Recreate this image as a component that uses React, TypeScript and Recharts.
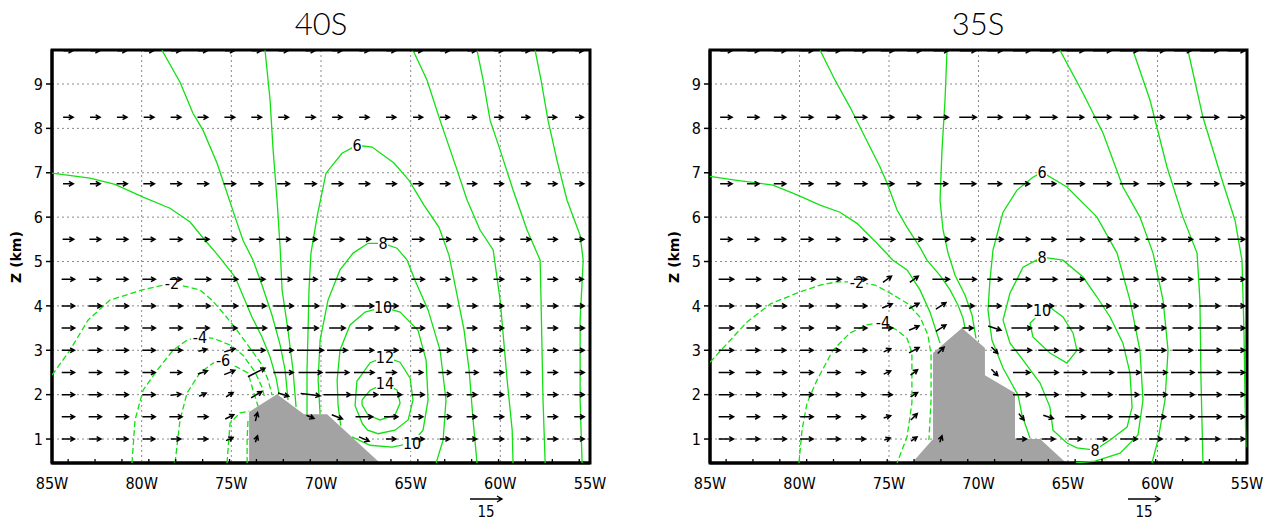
import React from "react"
import { ComposedChart, XAxis, YAxis, CartesianGrid, Scatter, Area, ReferenceArea } from "recharts"

type Pt = [number, number]

const xTicks = [-85, -80, -75, -70, -65, -60, -55]
const zTicks = [1, 2, 3, 4, 5, 6, 7, 8, 9]
const zMin = 0.46
const zMax = 9.766
// vector grid: heights (km) and longitudes of the arrows
const levels = [9.75, 8.25, 6.75, 5.5, 4.6, 4.0, 3.5, 3.0, 2.5, 2.0, 1.5, 1.0]
const columns = [-84.1, -82.6, -81.1, -79.6, -78.1, -76.6, -75.1, -73.6, -72.1, -70.6, -69.1, -67.6, -66.1, -64.6, -63.1, -61.6, -60.1, -58.6, -57.1, -55.6]
const refSpeed = 15

// ---- 40S ----
const terrain40: Pt[] = [[-74.01, 0.46], [-74.01, 1.61], [-72.45, 2.01], [-70.95, 1.56], [-69.66, 1.56], [-66.71, 0.46]]

const c40m10: Pt[] = [[-74.12, 0.46], [-74.12, 0.98], [-74.07, 1.43]]
const c40m8: Pt[] = [[-75.24, 0.46], [-75.07, 1.36], [-74.51, 1.59], [-74.0, 1.63]]
const c40m6: Pt[] = [[-78.14, 0.46], [-77.86, 1.43], [-77.47, 2.04], [-76.75, 2.49], [-76.02, 2.71], [-75.46, 2.78], [-74.68, 2.62], [-74.07, 2.49], [-73.79, 2.1], [-73.51, 1.74]]
const c40m4: Pt[] = [[-80.54, 0.46], [-80.37, 1.43], [-79.92, 2.1], [-79.14, 2.55], [-78.25, 3.0], [-77.47, 3.23], [-76.75, 3.3], [-76.02, 3.27], [-75.07, 3.12], [-74.35, 2.89], [-73.68, 2.51], [-73.29, 2.17], [-73.12, 1.9]]
const c40m2: Pt[] = [[-85, 2.44], [-84, 3.0], [-82.99, 3.68], [-81.77, 4.13], [-79.98, 4.36], [-78.31, 4.51], [-76.75, 4.36], [-76.08, 4.13], [-75.35, 3.79], [-74.68, 3.45], [-73.96, 3.05], [-73.29, 2.67], [-72.95, 2.33], [-72.73, 1.99]]
const c40p0a: Pt[] = [[-85, 6.99], [-82.88, 6.88], [-81.49, 6.74], [-79.92, 6.45], [-78.42, 6.2], [-77.3, 5.89], [-76.47, 5.48], [-75.74, 5.14], [-74.79, 4.65], [-73.85, 3.75], [-73.29, 3.3], [-72.84, 2.85], [-72.5, 2.37], [-72.34, 2.01]]
const c40p0b: Pt[] = [[-58.06, 9.76], [-57.73, 9.09], [-57.34, 8.18], [-56.84, 7.28], [-56.28, 6.38], [-55.55, 5.59], [-55.38, 5.03], [-55.55, 3.68], [-55.55, 1.88], [-55.44, 0.46]]
const c40p2a: Pt[] = [[-78.87, 9.76], [-77.86, 9.04], [-77.14, 8.34], [-76.58, 7.96], [-75.8, 7.22], [-75.35, 6.68], [-74.79, 6.0], [-74.35, 5.48], [-73.79, 5.03], [-73.29, 4.47], [-72.73, 3.79], [-72.28, 3.12], [-72.0, 2.55], [-71.84, 1.88]]
const c40p2b: Pt[] = [[-61.3, 9.76], [-60.96, 9.09], [-60.57, 8.18], [-60.01, 7.51], [-59.29, 6.61], [-58.51, 5.71], [-57.78, 5.03], [-57.73, 4.13], [-57.62, 1.88], [-57.5, 0.46]]
const c40p4a: Pt[] = [[-73.12, 9.76], [-72.84, 8.64], [-72.67, 7.51], [-72.45, 6.38], [-72.28, 5.32], [-72.17, 4.36], [-71.84, 3.45], [-71.56, 2.55], [-71.39, 1.72]]
const c40p4b: Pt[] = [[-64.87, 9.76], [-64.09, 9.09], [-63.36, 8.18], [-62.41, 7.06], [-61.85, 6.38], [-61.13, 5.71], [-60.4, 5.26], [-60.01, 4.13], [-59.62, 2.33], [-59.34, 1.2], [-59.29, 0.46]]
const c40p6: Pt[] = [[-70.78, 1.56], [-70.78, 2.55], [-70.72, 3.45], [-70.67, 4.36], [-70.56, 5.19], [-70.2, 6.05], [-69.72, 6.99], [-68.83, 7.44], [-67.99, 7.62], [-67.15, 7.58], [-65.93, 7.22], [-65.09, 6.83], [-64.26, 6.27], [-63.42, 5.77], [-62.86, 5.14], [-62.47, 4.36], [-62.02, 3.45], [-61.74, 2.55], [-61.52, 1.43], [-61.3, 0.46]]
const c40p8: Pt[] = [[-70.05, 1.56], [-70.16, 2.33], [-70.05, 3.23], [-69.61, 4.13], [-68.94, 4.81], [-68.21, 5.19], [-67.38, 5.41], [-66.54, 5.41], [-65.76, 5.3], [-65.2, 5.03], [-64.76, 4.58], [-64.03, 3.91], [-63.36, 3.0], [-63.03, 1.88], [-63.19, 0.98], [-63.58, 0.46]]
const c40p10: Pt[] = [[-68.27, 1.05], [-67.26, 0.86], [-66.04, 0.82], [-64.92, 0.91], [-64.31, 1.2], [-64.03, 1.88], [-64.14, 2.78], [-64.59, 3.45], [-65.59, 3.86], [-66.54, 3.97], [-67.54, 3.86], [-68.38, 3.57], [-68.94, 3.0], [-69.1, 2.33], [-69.05, 1.77], [-68.9, 1.3]]
const c40p12: Pt[] = [[-67.7, 1.35], [-68.1, 1.75], [-68.0, 2.3], [-67.26, 2.72], [-66.43, 2.85], [-65.59, 2.73], [-65.03, 2.37], [-64.87, 1.88], [-65.14, 1.43], [-65.87, 1.2], [-66.82, 1.12], [-67.4, 1.2], [-67.7, 1.35]]
const c40p14: Pt[] = [[-67.71, 1.88], [-67.26, 2.1], [-66.43, 2.26], [-65.76, 2.1], [-65.59, 1.81], [-65.87, 1.54], [-66.71, 1.43], [-67.38, 1.54], [-67.71, 1.77], [-67.71, 1.88]]

const lines40 = [
  { level: -10, pts: c40m10 }, { level: -8, pts: c40m8 }, { level: -6, pts: c40m6 },
  { level: -4, pts: c40m4 }, { level: -2, pts: c40m2 },
  { level: 0, pts: c40p0a }, { level: 0, pts: c40p0b },
  { level: 2, pts: c40p2a }, { level: 2, pts: c40p2b },
  { level: 4, pts: c40p4a }, { level: 4, pts: c40p4b },
  { level: 6, pts: c40p6 }, { level: 8, pts: c40p8 }, { level: 10, pts: c40p10 },
  { level: 12, pts: c40p12 }, { level: 14, pts: c40p14 },
]

const labels40 = [
  { lon: -78.31, z: 4.51, text: "-2" }, { lon: -76.75, z: 3.3, text: "-4" }, { lon: -75.46, z: 2.78, text: "-6" },
  { lon: -67.99, z: 7.62, text: "6" }, { lon: -66.54, z: 5.41, text: "8" }, { lon: -66.54, z: 3.97, text: "10" },
  { lon: -66.43, z: 2.85, text: "12" }, { lon: -66.43, z: 2.26, text: "14" }, { lon: -64.92, z: 0.91, text: "10" },
]

// zonal wind (m/s) per level (rows) and column; null = below ground
const u40: (number | null)[][] = [
  [4.4, 4.4, 4.4, 4.4, 4.4, 4.4, 4.4, 4.4, 4.4, 4.4, 4.4, 4.4, 4.4, 4.4, 4.3, 4.2, 4.1, 4.0, 4.0, 3.9],
  [4.7, 4.7, 4.7, 4.8, 4.8, 4.8, 4.8, 4.8, 4.8, 4.7, 4.7, 4.6, 4.6, 4.5, 4.4, 4.3, 4.2, 4.1, 4.0, 3.9],
  [4.8, 4.8, 5.0, 5.2, 5.3, 5.4, 5.6, 5.8, 5.8, 5.6, 5.4, 5.2, 5.0, 4.8, 4.7, 4.6, 4.5, 4.4, 4.3, 4.2],
  [5.2, 5.3, 5.5, 5.7, 5.9, 6.0, 6.2, 6.4, 6.5, 6.4, 6.2, 6.0, 5.8, 5.6, 5.4, 5.2, 5.0, 4.8, 4.6, 4.4],
  [6.1, 5.6, 5.6, 6.1, 5.6, 7.5, 7.8, 8.0, 8.0, 6.5, 7.5, 7.5, 6.0, 6.1, 4.7, 4.7, 4.7, 4.7, 4.7, 3.8],
  [6.1, 6.1, 6.1, 6.1, 6.1, 7.0, 7.5, 9.0, 9.4, 8.0, 7.5, 9.0, 6.5, 6.1, 6.0, 4.7, 4.7, 4.7, 4.7, 4.7],
  [6.1, 6.1, 6.1, 6.1, 6.1, 6.1, 7.0, 9.4, 7.5, 7.5, 7.5, 8.0, 7.5, 6.1, 6.0, 4.7, 4.7, 4.7, 4.7, 4.7],
  [6.0, 6.0, 6.0, 6.0, 6.0, 4.0, 5.0, 8.0, 9.4, 12.5, 9.4, 9.0, 6.5, 5.5, 6.0, 4.7, 4.7, 4.7, 4.7, 4.7],
  [6.0, 6.0, 6.0, 6.0, 5.5, 4.5, 5.0, 8.0, 9.4, 11.0, 11.0, 9.4, 5.0, 4.7, 6.0, 6.0, 4.7, 4.7, 4.7, 4.7],
  [6.0, 6.0, 6.0, 6.0, 5.0, 3.3, 3.3, 5.0, 5.0, 9.0, 12.7, 12.7, 10.0, 6.0, 6.0, 4.7, 4.7, 4.7, 4.7, 4.7],
  [6.0, 6.0, 6.0, 6.0, 6.0, 5.0, 4.0, 1.0, null, 3.5, 5.0, 8.0, 6.5, 4.7, 6.0, 4.7, 4.7, 4.7, 4.7, 4.7],
  [6.0, 5.6, 5.6, 5.6, 4.7, 4.7, 3.3, 1.0, null, null, null, 4.7, 4.7, 6.0, 4.7, 4.7, 4.7, 4.7, 4.7, 4.7],
]
// vertical component (scaled) where arrows are tilted: [row, column, w]
const tilt40: [number, number, number][] = [
  [7, 5, 1], [7, 6, 1.5], [8, 5, 1.5], [8, 6, 2], [8, 7, 4], [9, 4, 0.5], [9, 5, 1.5], [9, 6, 2], [9, 7, 3],
  [10, 6, 2], [10, 7, 4], [11, 6, 1.5], [11, 7, 3], [9, 8, -1.5], [9, 9, -1], [10, 9, -1.5], [10, 10, -2], [11, 11, -2],
]

// ---- 35S ----
const terrain35: Pt[] = [[-73.72, 0.46], [-72.54, 1.0], [-72.54, 2.94], [-70.92, 3.5], [-69.64, 3.05], [-69.64, 2.44], [-67.96, 2.04], [-67.96, 1.0], [-66.56, 1.0], [-65.1, 0.46]]

const c35m4: Pt[] = [[-80.03, 0.46], [-79.86, 1.2], [-79.58, 1.81], [-79.02, 2.33], [-78.13, 3.0], [-77.18, 3.39], [-76.23, 3.57], [-75.34, 3.64], [-74.55, 3.45], [-73.99, 3.27], [-73.72, 2.94], [-73.72, 2.4], [-73.72, 1.81], [-73.99, 1.05], [-74.55, 0.46]]
const c35m2: Pt[] = [[-85, 2.73], [-82.93, 3.64], [-81.6, 4.05], [-80.14, 4.29], [-78.85, 4.47], [-77.91, 4.54], [-76.79, 4.54], [-75.78, 4.47], [-74.94, 4.29], [-73.99, 4.06], [-73.27, 3.75], [-72.82, 3.34], [-72.65, 2.89], [-72.65, 1.88], [-72.77, 0.98]]
const c35p0a: Pt[] = [[-85, 6.92], [-83.49, 6.83], [-81.48, 6.72], [-80.14, 6.5], [-78.85, 6.27], [-77.74, 6.11], [-76.79, 5.86], [-75.67, 5.41], [-74.78, 5.03], [-73.99, 4.81], [-73.27, 4.36], [-72.71, 3.86], [-72.15, 3.16]]
const c35p0b: Pt[] = [[-58.3, 9.76], [-57.46, 8.25], [-56.34, 6.77], [-55.67, 5.93], [-55.28, 5.03], [-55.17, 3.45], [-55.11, 1.88], [-55.06, 0.82]]
const c35p2a: Pt[] = [[-78.85, 9.76], [-78.02, 9.09], [-77.18, 8.48], [-76.45, 7.89], [-75.5, 7.13], [-75.11, 6.77], [-74.55, 6.16], [-73.99, 5.77], [-73.27, 5.32], [-72.88, 5.03], [-72.15, 4.69], [-71.59, 4.36], [-71.15, 4.02], [-70.87, 3.73], [-70.75, 3.5]]
const c35p2b: Pt[] = [[-61.37, 9.76], [-60.42, 8.64], [-59.47, 7.13], [-58.58, 6.0], [-57.79, 5.19], [-57.63, 4.13], [-57.57, 2.33], [-57.46, 0.46]]
const c35p4a: Pt[] = [[-71.76, 9.76], [-71.87, 8.64], [-72.04, 7.51], [-72.15, 6.38], [-71.98, 5.71], [-71.7, 5.19], [-71.31, 4.69], [-70.75, 4.24], [-70.36, 3.79], [-70.14, 3.27]]
const c35p4b: Pt[] = [[-65.45, 9.76], [-64.16, 8.79], [-63.04, 7.89], [-61.93, 6.68], [-60.98, 6.0], [-60.25, 5.19], [-59.69, 4.13], [-59.41, 3.0], [-59.58, 1.88], [-59.97, 0.98], [-60.31, 0.46]]
const c35p6: Pt[] = [[-67.12, 1.02], [-67.57, 1.54], [-67.79, 1.99], [-68.63, 2.6], [-69.25, 3.23], [-69.47, 3.91], [-69.36, 4.58], [-69.19, 5.26], [-68.63, 6.11], [-67.85, 6.61], [-66.96, 6.9], [-66.45, 7.01], [-65.06, 6.68], [-63.38, 6.0], [-62.26, 5.19], [-61.54, 4.13], [-60.98, 3.0], [-60.81, 1.88], [-61.09, 1.09], [-62.09, 0.68], [-63.49, 0.5], [-64.61, 0.46]]
const c35p8: Pt[] = [[-66.45, 5.1], [-65.28, 5.03], [-64.16, 4.65], [-63.38, 4.2], [-62.65, 3.75], [-61.93, 3.16], [-61.54, 2.49], [-61.42, 1.72], [-61.7, 1.27], [-62.65, 0.98], [-63.49, 0.75], [-64.5, 0.8], [-65.06, 0.91], [-65.84, 1.2], [-66.01, 1.72], [-66.56, 2.26], [-67.51, 2.78], [-68.24, 3.16], [-68.63, 3.68], [-68.24, 4.29], [-67.51, 4.87], [-66.45, 5.1]]
const c35p10: Pt[] = [[-66.56, 3.84], [-66.01, 3.97], [-65.28, 3.75], [-64.72, 3.39], [-64.5, 3.0], [-65.06, 2.71], [-66.01, 2.94], [-66.96, 3.3], [-67.12, 3.61], [-66.56, 3.84]]

const lines35 = [
  { level: -4, pts: c35m4 }, { level: -2, pts: c35m2 },
  { level: 0, pts: c35p0a }, { level: 0, pts: c35p0b },
  { level: 2, pts: c35p2a }, { level: 2, pts: c35p2b },
  { level: 4, pts: c35p4a }, { level: 4, pts: c35p4b },
  { level: 6, pts: c35p6 }, { level: 8, pts: c35p8 }, { level: 10, pts: c35p10 },
]

const labels35 = [
  { lon: -76.79, z: 4.54, text: "-2" }, { lon: -75.34, z: 3.64, text: "-4" },
  { lon: -66.45, z: 7.01, text: "6" }, { lon: -66.45, z: 5.1, text: "8" },
  { lon: -66.45, z: 3.9, text: "10" }, { lon: -63.49, z: 0.75, text: "8" },
]

const u35: (number | null)[][] = [
  [5.6, 5.6, 5.6, 5.8, 6.0, 6.0, 6.1, 6.5, 7.0, 7.5, 7.0, 8.0, 8.0, 8.0, 8.5, 8.5, 8.0, 8.0, 8.5, 8.0],
  [5.6, 5.6, 5.6, 5.8, 6.0, 6.0, 6.1, 6.5, 7.0, 8.0, 7.0, 8.0, 8.0, 8.0, 8.5, 8.5, 8.0, 8.0, 8.5, 8.0],
  [5.6, 5.6, 5.6, 5.8, 6.0, 6.0, 6.2, 6.2, 6.2, 7.5, 6.5, 7.5, 7.0, 8.5, 8.5, 8.5, 8.0, 8.0, 8.5, 8.0],
  [5.6, 5.6, 5.6, 5.8, 6.0, 6.5, 7.0, 8.0, 8.0, 7.0, 8.0, 8.0, 7.0, 8.5, 9.4, 9.4, 9.4, 9.4, 9.4, 8.0],
  [7.0, 7.0, 6.1, 8.0, 7.0, 6.1, 4.0, 4.0, 8.0, 8.0, 7.0, 8.0, 8.0, 8.5, 8.5, 8.5, 9.4, 9.4, 9.4, 8.0],
  [7.0, 7.0, 6.1, 6.1, 6.1, 6.1, 4.7, 4.7, 4.7, 6.0, 6.0, 9.4, 5.0, 8.0, 8.0, 8.5, 9.4, 9.4, 9.4, 8.0],
  [7.0, 6.1, 5.6, 6.1, 6.1, 6.1, 5.0, 4.7, 4.7, 5.0, 6.0, 9.4, 9.4, 8.0, 8.5, 9.4, 9.4, 9.4, 10.8, 8.0],
  [7.0, 6.1, 5.6, 6.1, 6.1, 6.1, 3.3, 4.7, 3.0, null, 3.0, 9.4, 9.4, 8.0, 9.4, 9.4, 9.4, 9.4, 10.8, 8.0],
  [7.0, 7.0, 6.1, 6.1, 6.1, 4.7, 3.3, 3.3, null, null, 3.0, 8.0, 9.4, 10.8, 10.8, 10.8, 10.8, 10.8, 10.8, 8.0],
  [7.0, 7.0, 6.1, 6.1, 6.1, 4.7, 4.7, 3.3, null, null, null, 8.0, 9.4, 9.4, 9.4, 9.4, 10.8, 10.8, 10.8, 8.0],
  [7.0, 6.1, 6.1, 6.1, 6.1, 4.7, 3.3, 3.0, null, null, null, 2.5, 4.7, 9.4, 9.4, 9.4, 9.4, 10.8, 10.8, 8.0],
  [7.0, 6.1, 6.1, 6.1, 6.1, 4.7, 2.8, 2.8, 1.0, null, null, 4.7, 6.1, 6.1, 4.7, 8.0, 6.1, 6.1, 9.4, 8.0],
]
const tilt35: [number, number, number][] = [
  [4, 6, 3], [4, 7, 3], [5, 6, 2], [5, 7, 2.5], [5, 8, 3], [6, 7, 2], [6, 8, 3], [7, 6, 1.5], [7, 7, 2.5], [7, 8, 3],
  [8, 6, 1.5], [8, 7, 2.5], [9, 7, 2], [10, 6, 1], [10, 7, 3], [11, 6, 1], [11, 7, 2], [11, 8, 3],
  [6, 10, -2], [7, 10, -3], [8, 10, -3], [10, 11, -3], [10, 12, -1.5],
]

const GREEN = "#12e012"
const TICK_FONT = "'Liberation Sans Narrow', 'DejaVu Sans Condensed', 'Liberation Sans', sans-serif"
const PX_PER_MS = 32 / refSpeed

function buildArrows(u: (number | null)[][], tilts: [number, number, number][]) {
  const w = u.map((row) => row.map(() => 0))
  tilts.forEach(([r, c, v]) => { w[r][c] = v })
  const out: { lon: number; z: number; u: number; w: number }[] = []
  u.forEach((row, r) =>
    row.forEach((val, c) => {
      if (val != null) out.push({ lon: columns[c], z: levels[r], u: val, w: w[r][c] })
    })
  )
  return out
}

const ArrowShape = (props: any) => {
  const { cx, cy, payload } = props
  if (cx == null || cy == null) return <g />
  const dx = payload.u * PX_PER_MS
  const dy = -payload.w * PX_PER_MS
  const x1 = cx - dx / 2, y1 = cy - dy / 2
  const x2 = cx + dx / 2, y2 = cy + dy / 2
  const ang = Math.atan2(dy, dx)
  const h = 5, a = 0.5
  const hx1 = x2 - h * Math.cos(ang - a), hy1 = y2 - h * Math.sin(ang - a)
  const hx2 = x2 - h * Math.cos(ang + a), hy2 = y2 - h * Math.sin(ang + a)
  return (
    <path
      d={`M${x1},${y1}L${x2},${y2}M${hx1},${hy1}L${x2},${y2}L${hx2},${hy2}`}
      stroke="#000"
      strokeWidth={1.5}
      fill="none"
    />
  )
}

const LabelShape = (props: any) => {
  const { cx, cy, payload } = props
  if (cx == null) return <g />
  const w = payload.text.length * 8 + 2
  return (
    <g>
      <rect x={cx - w / 2} y={cy - 8} width={w} height={16} fill="#fff" />
      <text x={cx} y={cy + 6} textAnchor="middle" fontSize={16} fontFamily={TICK_FONT} fill="#000">
        {payload.text}
      </text>
    </g>
  )
}

const ColTick = (props: any) => {
  const { cx, cy } = props
  if (cx == null) return <g />
  return <line x1={cx} x2={cx} y1={cy} y2={cy - 4} stroke="#000" strokeWidth={1.3} />
}

const NoDot = () => <g />

interface PanelProps {
  width: number
  marginLeft: number
  marginRight: number
  terrain: Pt[]
  lines: { level: number; pts: Pt[] }[]
  labels: { lon: number; z: number; text: string }[]
  arrows: { lon: number; z: number; u: number; w: number }[]
}

function Panel({ width, marginLeft, marginRight, terrain, lines, labels, arrows }: PanelProps) {
  const terrainData = terrain.map(([lon, z]) => ({ lon, z }))
  const colMarks = columns.map((lon) => ({ lon, z: zMin }))
  return (
    <ComposedChart
      width={width}
      height={520}
      data={terrainData}
      margin={{ top: 50, right: marginRight, bottom: 27, left: marginLeft }}
    >
      <CartesianGrid stroke="#8a8a8a" strokeDasharray="2 3" strokeWidth={1} />
      <XAxis
        type="number"
        dataKey="lon"
        domain={[-85, -55]}
        ticks={xTicks}
        interval={0}
        allowDataOverflow
        height={30}
        tickSize={0}
        tickMargin={15}
        tickFormatter={(v: number) => `${-v}W`}
        tick={{ fontSize: 16, fill: "#000", fontFamily: TICK_FONT }}
        axisLine={{ stroke: "#000", strokeWidth: 3 }}
      />
      <YAxis
        type="number"
        dataKey="z"
        domain={[zMin, zMax]}
        ticks={zTicks}
        interval={0}
        allowDataOverflow
        width={40}
        tickSize={6}
        tickMargin={3}
        tick={{ fontSize: 16, fill: "#000", fontFamily: TICK_FONT }}
        tickLine={{ stroke: "#000", strokeWidth: 1.5 }}
        axisLine={{ stroke: "#000", strokeWidth: 3 }}
      />
      {lines.map((c, i) => (
        <Scatter
          key={`c${i}`}
          data={c.pts.map(([lon, z]) => ({ lon, z }))}
          line={{ stroke: GREEN, strokeWidth: 1.3, strokeDasharray: c.level < 0 ? "6 3" : undefined }}
          shape={NoDot}
          isAnimationActive={false}
        />
      ))}
      <Area
        dataKey="z"
        type="linear"
        fill="#a3a3a3"
        fillOpacity={1}
        stroke="none"
        baseValue="dataMin"
        isAnimationActive={false}
      />
      <Scatter data={labels} shape={LabelShape} isAnimationActive={false} />
      <Scatter data={arrows} shape={ArrowShape} isAnimationActive={false} />
      <Scatter data={colMarks} shape={ColTick} isAnimationActive={false} />
      <ReferenceArea x1={-85} x2={-55} y1={zMin} y2={zMax} fill="none" stroke="#000" strokeWidth={3} />
    </ComposedChart>
  )
}

const arrows40 = buildArrows(u40, tilt40)
const arrows35 = buildArrows(u35, tilt35)

const titleStyle: React.CSSProperties = {
  position: "absolute",
  top: 8,
  width: 200,
  textAlign: "center",
  fontFamily: "Lato, 'Open Sans', sans-serif",
  fontWeight: 300,
  fontSize: 31,
  lineHeight: "31px",
  color: "#000",
}

const zLabelStyle: React.CSSProperties = {
  position: "absolute",
  top: 247,
  width: 80,
  height: 20,
  lineHeight: "20px",
  textAlign: "center",
  transform: "rotate(-90deg)",
  fontFamily: "'DejaVu Sans', sans-serif",
  fontWeight: 700,
  fontSize: 14,
  color: "#000",
}

function RefVector({ x }: { x: number }) {
  const len = refSpeed * PX_PER_MS
  return (
    <g>
      <path
        d={`M${x},499L${x + len},499M${x + len - 5},496L${x + len},499L${x + len - 5},502`}
        stroke="#000"
        strokeWidth={1.4}
        fill="none"
      />
      <text x={x + len / 2} y={517} textAnchor="middle" fontSize={15} fontFamily={TICK_FONT}>
        {refSpeed}
      </text>
    </g>
  )
}

export default function App() {
  return (
    <div style={{ position: "absolute", left: 0, top: 0, width: 1279, height: 520, background: "#fff" }}>
      <div style={{ position: "absolute", left: 0, top: 0 }}>
        <Panel width={640} marginLeft={12} marginRight={50} terrain={terrain40} lines={lines40} labels={labels40} arrows={arrows40} />
      </div>
      <div style={{ position: "absolute", left: 640, top: 0 }}>
        <Panel width={639} marginLeft={30} marginRight={32} terrain={terrain35} lines={lines35} labels={labels35} arrows={arrows35} />
      </div>
      <div style={{ ...titleStyle, left: 321 - 100 }}>40S</div>
      <div style={{ ...titleStyle, left: 978 - 100 }}>35S</div>
      <div style={{ ...zLabelStyle, left: 16 - 40 }}>Z (km)</div>
      <div style={{ ...zLabelStyle, left: 674 - 40 }}>Z (km)</div>
      <svg width={1279} height={520} style={{ position: "absolute", left: 0, top: 0, pointerEvents: "none" }}>
        <RefVector x={470} />
        <RefVector x={1128} />
      </svg>
    </div>
  )
}
